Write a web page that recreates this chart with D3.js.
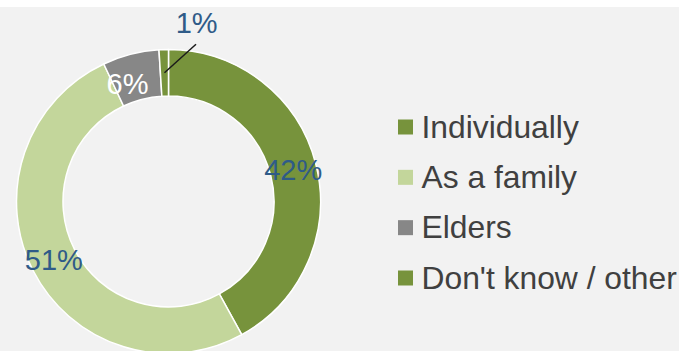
<!DOCTYPE html>
<html>
<head>
<meta charset="utf-8">
<script src="https://cdn.jsdelivr.net/npm/d3@7"></script>
<style>
  html, body { margin: 0; padding: 0; background: #ffffff; }
  svg { display: block; }
</style>
</head>
<body>
<svg id="chart" width="679" height="351"></svg>
<script>
// Survey answers: who makes the decision
const categories = ["Individually", "As a family", "Elders", "Don't know / other"];
const shares = [42, 51, 6, 1];
const sliceColors = ["#77933C", "#C3D69B", "#878787", "#77933C"];
const labelColors = ["#2F5B88", "#2F5B88", "#ffffff", "#2F5B88"];

const W = 679, H = 351;
const cx = 168.5, cy = 201.5;
const outerR = 152, innerR = 105.5;

const svg = d3.select("#chart");

// panel background (white strip along the top edge)
svg.append("rect").attr("x", 0).attr("y", 0).attr("width", W).attr("height", H).attr("fill", "#ffffff");
svg.append("rect").attr("x", 0).attr("y", 7).attr("width", W).attr("height", H - 7).attr("fill", "#F2F2F2");

const data = categories.map((c, i) => ({ name: c, value: shares[i], i }));

const pie = d3.pie().value(d => d.value).sort(null);
const arcs = pie(data);

const arc = d3.arc().innerRadius(innerR).outerRadius(outerR);
const labelArc = d3.arc().innerRadius((innerR + outerR) / 2).outerRadius((innerR + outerR) / 2);

const g = svg.append("g").attr("transform", `translate(${cx},${cy})`);

g.selectAll("path.slice")
  .data(arcs)
  .join("path")
  .attr("class", "slice")
  .attr("d", arc)
  .attr("fill", d => sliceColors[d.data.i])
  .attr("stroke", "#ffffff")
  .attr("stroke-width", 1.5);

const font = "'Liberation Sans', Arial, sans-serif";

// slices too thin for an inside label get a callout with a leader line
const minInside = 3;
arcs.forEach(d => {
  const [lx, ly] = labelArc.centroid(d);
  const txt = d.data.value + "%";
  if (d.data.value > minInside) {
    let nx = lx, ny = ly;
    if (d.data.value < 10) { nx = lx - 9; ny = ly + 7; }
    g.append("text")
      .attr("x", nx).attr("y", ny)
      .attr("dy", "0.36em")
      .attr("text-anchor", "middle")
      .attr("font-family", font)
      .attr("font-size", 29)
      .attr("fill", labelColors[d.data.i])
      .text(txt);
  } else {
    const ex = 27.5, ey = -157.2;
    g.append("line")
      .attr("x1", lx).attr("y1", ly)
      .attr("x2", ex).attr("y2", ey)
      .attr("stroke", "#1a1a1a")
      .attr("stroke-width", 1.5);
    g.append("text")
      .attr("x", ex + 0.7).attr("y", ey - 11)
      .attr("text-anchor", "middle")
      .attr("font-family", font)
      .attr("font-size", 29)
      .attr("fill", labelColors[d.data.i])
      .text(txt);
  }
});

// legend
const legend = svg.append("g").attr("transform", "translate(398,0)");
const rowY = d3.scalePoint().domain(categories).range([127, 278]);

const rows = legend.selectAll("g.row")
  .data(data)
  .join("g")
  .attr("class", "row")
  .attr("transform", d => `translate(0,${rowY(d.name)})`);

rows.append("rect")
  .attr("x", 0).attr("y", -7.5)
  .attr("width", 15).attr("height", 15)
  .attr("fill", d => sliceColors[d.i]);

rows.append("text")
  .attr("x", 23.5)
  .attr("y", 10.5)
  .attr("font-family", font)
  .attr("font-size", 31.8)
  .attr("fill", "#404040")
  .text(d => d.name);
</script>
</body>
</html>
